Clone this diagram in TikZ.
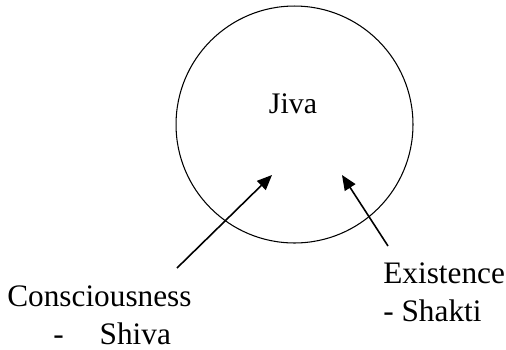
\documentclass[tikz,border=0pt]{standalone}
\usepackage{fontspec}
\setmainfont{Liberation Serif}
\usetikzlibrary{arrows.meta}
\tikzset{
	lbl/.style={inner sep=0pt, align=left, font=\fontsize{17.8}{21.2}\selectfont},
	arr/.style={-{Triangle[length=3mm, width=2.5mm]}, line width=0.9pt}
}

\begin{document}
\begin{tikzpicture}[
        x=0.02cm, y=-0.02cm,
        self/.style={circle, draw, line width=0.6pt, minimum size=4.74cm, inner sep=0pt}
    ]
        \useasboundingbox (0,0) rectangle (506,349);

        \node[self] (jiva) at (294.5,124.5) {};
        \node[lbl, anchor=base, font=\fontsize{17}{20.5}\selectfont] (jivalbl) at (293,113) {Jiva};
        \node[lbl, anchor=base west] (cons) at (7,344) {Consciousness\\\hspace*{0.92cm}-\hspace{0.72cm}Shiva};
        \node[lbl, anchor=base west] (exist) at (383,321) {Existence\\- Shakti};

        \coordinate (shivafoot) at (177,268);
        \coordinate (shivatip) at (272,175);
        \coordinate (shaktifoot) at (388,246);
        \coordinate (shaktitip) at (342,175);

        \draw[arr] (shivafoot) -- (shivatip);
        \draw[arr] (shaktifoot) -- (shaktitip);
    \end{tikzpicture}
\end{document}
